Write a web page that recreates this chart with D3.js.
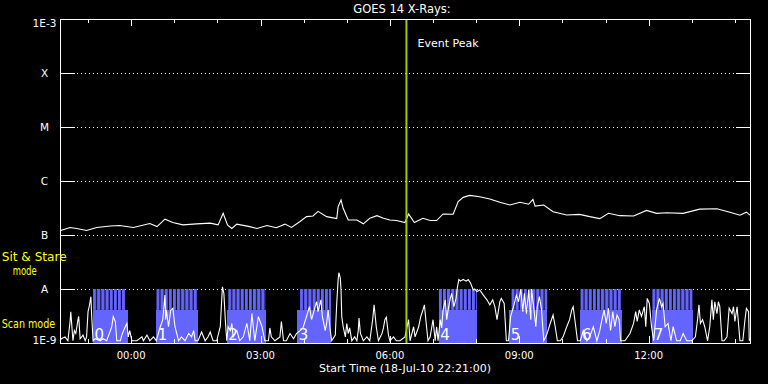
<!DOCTYPE html>
<html>
<head>
<meta charset="utf-8">
<script src="https://cdnjs.cloudflare.com/ajax/libs/d3/7.8.5/d3.min.js"></script>
<style>
  body { margin: 0; background: #000; }
  svg { display: block; }
  text { font-family: "DejaVu Sans", sans-serif; fill: #fff; }
</style>
</head>
<body>
<svg id="chart"></svg>
<script>
const W = 768, H = 384
const margins = { top: 19, bottom: 41, left: 60, right: 18 }

// y axis decades and their labels
const decadeValues = [1e-9, 1e-8, 1e-7, 1e-6, 1e-5, 1e-4, 1e-3]
const decadeLabels = ['1E-9', 'A', 'B', 'C', 'M', 'X', '1E-3']

// times are minutes after start (18-Jul-10 22:21:00)
const spanMinutes = 960
const eventMinute = 482

// long channel (1-8 A), W/m^2 x 1e-7
const longT = [0, 14, 23, 37, 51, 70, 83, 102, 125, 135,
  146, 157, 171, 190, 209, 220, 227, 233, 239, 246,
  264, 274, 288, 301, 313, 322, 334, 343, 352, 359,
  371, 385, 387, 391, 394, 401, 413, 422, 431, 441,
  450, 459, 468, 480, 485, 493, 505, 515, 524, 533,
  547, 554, 561, 570, 584, 598, 612, 626, 640, 652,
  658, 661, 673, 686, 705, 723, 737, 751, 763, 779,
  798, 816, 830, 844, 867, 890, 914, 932, 946, 955,
  960]
const longFlux = [1.20, 1.38, 1.32, 1.21, 1.38, 1.47, 1.50, 1.38, 1.63, 1.43,
  1.96, 1.70, 1.54, 1.61, 1.66, 1.54, 2.52, 1.54, 1.32, 1.59,
  1.43, 1.32, 1.50, 1.36, 1.59, 1.38, 1.78, 2.19, 2.25, 2.74,
  2.19, 2.01, 3.35, 4.45, 3.12, 1.90, 1.90, 1.61, 2.04, 2.28,
  2.04, 1.90, 1.85, 1.70, 2.45, 1.70, 2.04, 1.85, 1.85, 2.45,
  2.43, 4.15, 4.98, 5.42, 5.11, 4.64, 4.04, 3.59, 4.04, 3.71,
  4.58, 3.43, 3.59, 2.70, 2.34, 2.41, 2.19, 2.01, 2.52, 2.28,
  2.25, 2.85, 2.52, 2.59, 2.52, 3.01, 3.06, 2.63, 2.32, 2.65,
  2.34]

// short channel (0.5-4 A), W/m^2 x 1e-9
const shortT = [0, 2, 7, 11, 14, 15, 18, 20, 22, 25,
  26, 28, 32, 35, 37, 39, 41, 43, 44, 46,
  49, 56, 60, 65, 72, 74, 77, 79, 84, 86,
  90, 93, 95, 97, 100, 107, 114, 116, 121, 125,
  130, 134, 139, 143, 146, 147, 148, 151, 154, 157,
  160, 165, 169, 174, 179, 183, 186, 188, 192, 197,
  202, 206, 209, 213, 218, 223, 225, 226, 228, 230,
  232, 234, 237, 239, 241, 246, 250, 255, 260, 264,
  267, 271, 276, 281, 285, 290, 292, 294, 299, 306,
  308, 311, 315, 320, 325, 329, 334, 338, 343, 347,
  350, 355, 357, 359, 363, 365, 369, 371, 373, 376,
  378, 383, 385, 387, 388, 390, 391, 392, 394, 397,
  399, 401, 403, 406, 410, 413, 415, 416, 418, 422,
  427, 431, 435, 437, 440, 443, 448, 450, 452, 454,
  457, 459, 464, 468, 473, 480, 485, 487, 492, 494,
  499, 502, 505, 507, 509, 512, 515, 519, 522, 524,
  526, 529, 531, 533, 536, 538, 540, 543, 545, 548,
  551, 553, 555, 557, 561, 565, 568, 571, 575, 577,
  580, 584, 589, 594, 598, 602, 605, 608, 612, 614,
  618, 621, 624, 627, 631, 635, 638, 641, 644, 646,
  649, 652, 655, 656, 659, 662, 664, 667, 670, 673,
  677, 682, 686, 689, 692, 696, 700, 705, 709, 712,
  714, 717, 720, 724, 728, 733, 737, 742, 747, 751,
  754, 757, 760, 763, 766, 769, 772, 775, 778, 780,
  786, 793, 798, 801, 803, 806, 809, 813, 815, 817,
  820, 823, 826, 830, 834, 837, 839, 842, 846, 850,
  853, 858, 863, 867, 872, 879, 884, 887, 889, 891,
  894, 897, 901, 904, 907, 909, 911, 914, 916, 918,
  921, 924, 928, 931, 935, 937, 939, 942, 944, 946,
  950, 953, 955, 958, 959, 960]
const shortFlux = [1.1, 1.2, 1.3, 1.1, 2.5, 3.8, 1.1, 1.7, 1.5, 2.7,
  3.1, 1.2, 1.4, 1.1, 1.3, 3.8, 5.0, 7.2, 3.3, 1.1,
  1.2, 1.1, 1.2, 1.1, 2.0, 3.1, 2.5, 1.1, 1.1, 1.4,
  1.9, 2.3, 1.3, 1.7, 1.1, 1.1, 1.3, 1.1, 1.4, 1.1,
  1.3, 1.1, 1.9, 2.7, 7.7, 2.7, 4.1, 2.0, 4.0, 4.4,
  2.0, 1.1, 1.3, 1.1, 1.5, 1.3, 1.7, 1.1, 1.1, 1.6,
  1.1, 1.3, 1.6, 1.1, 1.1, 2.0, 6.3, 11, 8.3, 2.7,
  1.1, 2.0, 1.7, 2.3, 1.3, 1.7, 1.1, 1.3, 2.3, 1.1,
  3.5, 1.1, 3.1, 2.0, 1.1, 1.1, 1.9, 1.3, 1.1, 1.3,
  2.5, 1.1, 1.1, 1.5, 1.2, 1.5, 1.7, 1.9, 3.1, 4.7,
  2.7, 4.7, 5.8, 3.8, 6.3, 3.1, 1.7, 2.3, 4.1, 1.7,
  1.1, 1.4, 5.4, 15, 20, 16, 9.6, 3.1, 2.0, 1.3,
  2.3, 1.5, 1.9, 1.1, 1.3, 1.1, 1.7, 2.9, 1.5, 1.1,
  1.3, 1.1, 2.7, 5.1, 2.0, 1.1, 1.5, 1.9, 2.7, 3.0,
  1.4, 1.1, 1.3, 1.1, 1.1, 1.3, 2.7, 1.1, 2.0, 1.3,
  2.0, 3.1, 4.1, 5.1, 2.7, 1.1, 1.3, 2.7, 1.1, 2.0,
  1.1, 2.7, 1.9, 4.1, 6.3, 2.7, 4.1, 6.7, 8.3, 4.7,
  6.7, 11, 15, 14, 15, 14, 15, 13, 9.6, 10,
  9.0, 9.6, 7.7, 6.3, 5.1, 6.3, 4.7, 2.7, 5.8, 6.7,
  5.4, 1.1, 1.1, 3.1, 4.7, 7.7, 5.8, 10, 3.8, 8.3,
  3.5, 9.6, 2.7, 10, 4.7, 2.0, 4.7, 7.2, 4.1, 1.1,
  1.4, 2.3, 3.3, 2.0, 1.1, 1.1, 1.3, 2.0, 2.7, 4.1,
  4.7, 2.3, 1.1, 1.1, 1.7, 1.1, 1.3, 2.0, 1.1, 1.7,
  2.7, 4.1, 2.3, 4.4, 1.7, 3.8, 2.0, 3.3, 2.7, 1.1,
  1.1, 1.5, 2.3, 3.8, 2.5, 4.1, 3.1, 4.7, 2.0, 6.7,
  5.4, 2.0, 1.1, 4.1, 6.7, 4.7, 5.4, 2.0, 2.3, 1.1,
  2.0, 1.1, 1.1, 1.5, 1.1, 1.1, 1.3, 2.7, 5.1, 2.3,
  2.7, 2.0, 1.1, 2.0, 6.3, 2.7, 5.8, 3.5, 5.8, 4.7,
  1.1, 1.1, 1.3, 4.4, 3.5, 4.7, 2.5, 4.7, 2.3, 1.1,
  1.1, 2.7, 4.4, 3.8, 1.1, 1.2]

// orbit blocks of the imager mode (minutes after start)
const orbitLabels = ['0', '1', '2', '3', '4', '5', '6', '7']
const scanStart = [46, 134, 232, 330, 527, 625, 724, 824]
const scanEnd = [94, 192, 286, 377, 580, 678, 782, 880]
const sitStart = [46, 134, 234, 334, 527, 628, 724, 824]
const sitEnd = [91, 192, 286, 377, 580, 678, 782, 880]
const scanLevel = 4.1e-9, sitLevel = 1e-8

const blue = '#6464ff'
const eventColor = '#9acd00'

const svg = d3.select('#chart').attr('width', W).attr('height', H)
svg.append('rect').attr('width', W).attr('height', H).attr('fill', '#000')

const t0 = Date.UTC(2010, 6, 18, 22, 21)
const toDate = m => new Date(t0 + m * 60000)

const x = d3.scaleUtc()
  .domain([toDate(0), toDate(spanMinutes)])
  .range([margins.left, W - margins.right])
const y = d3.scaleLog()
  .domain([1e-9, 1e-3])
  .range([H - margins.bottom, margins.top])

const x0 = margins.left, x1 = W - margins.right
const y0 = margins.top, y1 = H - margins.bottom

// dotted grid on the flare classes
const grid = svg.append('g').attr('shape-rendering', 'crispEdges')
grid.selectAll('line')
  .data(decadeValues.slice(1, -1))
  .enter().append('line')
  .attr('x1', x0 + 17).attr('x2', x1 - 14)
  .attr('y1', d => Math.round(y(d)) + 0.5)
  .attr('y2', d => Math.round(y(d)) + 0.5)
  .attr('stroke', '#fff')
  .attr('stroke-dasharray', '1,3')

// mode blocks
const defs = svg.append('defs')
scanStart.forEach(function (s, i) {
  defs.append('pattern')
    .attr('id', 'comb' + i)
    .attr('patternUnits', 'userSpaceOnUse')
    .attr('x', x(toDate(sitStart[i])))
    .attr('y', 0)
    .attr('width', 4.15)
    .attr('height', H)
    .append('rect')
    .attr('width', 3.1).attr('height', H)
    .attr('fill', blue)
})

const blocks = svg.append('g')
blocks.selectAll('.scan')
  .data(scanStart)
  .enter().append('rect')
  .attr('class', 'scan')
  .attr('shape-rendering', 'crispEdges')
  .attr('x', d => x(toDate(d)))
  .attr('width', (d, i) => x(toDate(scanEnd[i])) - x(toDate(d)))
  .attr('y', y(scanLevel))
  .attr('height', y(1e-9) - y(scanLevel))
  .attr('fill', blue)

blocks.selectAll('.sit')
  .data(sitStart)
  .enter().append('rect')
  .attr('class', 'sit')
  .attr('x', d => x(toDate(d)))
  .attr('width', (d, i) => x(toDate(sitEnd[i])) - x(toDate(d)))
  .attr('y', y(sitLevel))
  .attr('height', y(scanLevel) - y(sitLevel))
  .attr('fill', (d, i) => 'url(#comb' + i + ')')

// orbit numbers
svg.selectAll('.orbit')
  .data(orbitLabels)
  .enter().append('text')
  .attr('class', 'orbit')
  .attr('x', (d, i) => x(toDate(scanStart[i])) + 1.5)
  .attr('y', y1 - 3)
  .attr('font-size', '15px')
  .text(d => d)

// data lines
const longData = longT.map((t, i) => ({ t: toDate(t), v: longFlux[i] * 1e-7 }))
const shortData = shortT.map((t, i) => ({ t: toDate(t), v: Math.max(shortFlux[i] * 1e-9, 1e-9) }))

const line = d3.line()
  .x(d => x(d.t))
  .y(d => y(d.v))

svg.append('path')
  .datum(shortData)
  .attr('d', line)
  .attr('fill', 'none')
  .attr('stroke', '#fff')
  .attr('stroke-width', 1.1)

svg.append('path')
  .datum(longData)
  .attr('d', line)
  .attr('fill', 'none')
  .attr('stroke', '#fff')
  .attr('stroke-width', 1.1)

// event line
svg.append('line')
  .attr('x1', x(toDate(eventMinute))).attr('x2', x(toDate(eventMinute)))
  .attr('y1', y0).attr('y2', y1)
  .attr('stroke', eventColor)
  .attr('stroke-width', 2)

svg.append('text')
  .attr('x', x(toDate(eventMinute)) + 11)
  .attr('y', 46.5)
  .attr('font-size', '11px')
  .text('Event Peak')

// frame and ticks
const axes = svg.append('g').attr('shape-rendering', 'crispEdges').attr('stroke', '#fff')
axes.append('rect')
  .attr('x', x0 + 0.5).attr('y', y0 + 0.5)
  .attr('width', x1 - x0).attr('height', y1 - y0)
  .attr('fill', 'none')

axes.selectAll('.ytickl')
  .data(decadeValues)
  .enter().append('line')
  .attr('x1', x0).attr('x2', x0 + 15)
  .attr('y1', d => Math.round(y(d)) + 0.5)
  .attr('y2', d => Math.round(y(d)) + 0.5)

axes.selectAll('.ytickr')
  .data(decadeValues)
  .enter().append('line')
  .attr('x1', x1 - 14).attr('x2', x1)
  .attr('y1', d => Math.round(y(d)) + 0.5)
  .attr('y2', d => Math.round(y(d)) + 0.5)

const hourTicks = x.ticks(d3.utcHour.every(1))
const tickLen = d => d.getUTCHours() % 3 === 0 ? 7 : 4

axes.selectAll('.xtop')
  .data(hourTicks)
  .enter().append('line')
  .attr('x1', d => Math.round(x(d)) + 0.5)
  .attr('x2', d => Math.round(x(d)) + 0.5)
  .attr('y1', y0)
  .attr('y2', d => y0 + tickLen(d))

axes.selectAll('.xbot')
  .data(hourTicks)
  .enter().append('line')
  .attr('x1', d => Math.round(x(d)) + 0.5)
  .attr('x2', d => Math.round(x(d)) + 0.5)
  .attr('y1', y1)
  .attr('y2', d => y1 - tickLen(d))

// labels
svg.selectAll('.ylab')
  .data(decadeValues)
  .enter().append('text')
  .attr('class', 'ylab')
  .attr('x', 44.5)
  .attr('y', d => Math.min(Math.max(y(d), 23), 339.5) + 4)
  .attr('text-anchor', 'middle')
  .attr('font-size', '10.5px')
  .text((d, i) => decadeLabels[i])

svg.selectAll('.xlab')
  .data(hourTicks.filter(d => d.getUTCHours() % 3 === 0))
  .enter().append('text')
  .attr('class', 'xlab')
  .attr('x', d => x(d))
  .attr('y', 359)
  .attr('text-anchor', 'middle')
  .attr('font-size', '10px')
  .text(d3.utcFormat('%H:%M'))

svg.append('text')
  .attr('x', 405).attr('y', 371.5)
  .attr('text-anchor', 'middle')
  .attr('font-size', '11px')
  .text('Start Time (18-Jul-10 22:21:00)')

svg.append('text')
  .attr('x', 402).attr('y', 13.3)
  .attr('text-anchor', 'middle')
  .attr('font-size', '11.5px')
  .text('GOES 14 X-Rays:')

// mode labels
const modeText = [
  { s: 'Sit & Stare', x: 1.7, y: 261, len: 65 },
  { s: 'mode', x: 12.7, y: 275, len: 24 },
  { s: 'Scan mode', x: 1.7, y: 328.3, len: 53.5 }
]
svg.selectAll('.mode')
  .data(modeText)
  .enter().append('text')
  .attr('class', 'mode')
  .attr('x', d => d.x).attr('y', d => d.y)
  .attr('font-size', '11.5px')
  .attr('textLength', d => d.len)
  .attr('lengthAdjust', 'spacingAndGlyphs')
  .style('fill', '#ffff00')
  .text(d => d.s)
</script>
</body>
</html>
